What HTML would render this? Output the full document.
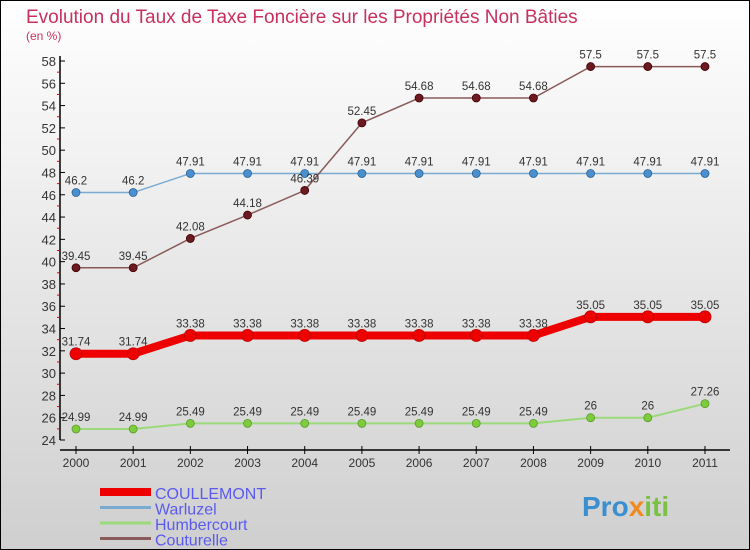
<!DOCTYPE html>
<html><head><meta charset="utf-8"><style>
body{margin:0}
#c{width:750px;height:550px;position:relative;overflow:hidden}
text{font-family:"Liberation Sans",sans-serif}
</style></head><body>
<div id="c">
<svg id="s" width="750" height="550" xmlns="http://www.w3.org/2000/svg">
<defs><linearGradient id="bg" x1="0" y1="0" x2="0" y2="1"><stop offset="0" stop-color="#ffffff"/><stop offset="1" stop-color="#cfcfcf"/></linearGradient></defs>
<rect x="0.5" y="0.5" width="749" height="549" fill="url(#bg)" stroke="#000"/>
<text x="26" y="23" font-size="19" fill="#c8305e">Evolution du Taux de Taxe Foncière sur les Propriétés Non Bâties</text>
<text x="26" y="40" font-size="12" fill="#c8305e">(en %)</text>
<g id="axes"></g><g id="series"></g><g id="legend"></g>
<g><text x="582" y="516" font-size="28" font-weight="bold" fill="#3a8fd0">Pro<tspan fill="#f08a20">x</tspan><tspan fill="#7ac143">iti</tspan></text></g>
</svg></div>
<script>
const years=["2000","2001","2002","2003","2004","2005","2006","2007","2008","2009","2010","2011"];
const yTicks=[24,26,28,30,32,34,36,38,40,42,44,46,48,50,52,54,56,58];
const coullemont=[31.74,31.74,33.38,33.38,33.38,33.38,33.38,33.38,33.38,35.05,35.05,35.05];
const warluzel=[46.2,46.2,47.91,47.91,47.91,47.91,47.91,47.91,47.91,47.91,47.91,47.91];
const humbercourt=[24.99,24.99,25.49,25.49,25.49,25.49,25.49,25.49,25.49,26,26,27.26];
const couturelle=[39.45,39.45,42.08,44.18,46.39,52.45,54.68,54.68,54.68,57.5,57.5,57.5];
const seriesNames=["COULLEMONT","Warluzel","Humbercourt","Couturelle"];
const NS="http://www.w3.org/2000/svg";
function X(i){return 76+i*57.18;}
function Y(v){return 440-(v-24)*(379/34);}
function mk(t,a,p){const e=document.createElementNS(NS,t);for(const k in a)e.setAttribute(k,a[k]);p.appendChild(e);return e;}
const ax=document.getElementById('axes');
let yl=mk('line',{x1:60,y1:56,x2:60,y2:440,stroke:'#000','stroke-width':1.5},ax);


let xl=mk('line',{x1:60,y1:450,x2:730,y2:450,stroke:'#000','stroke-width':1.5},ax);


yTicks.forEach(v=>{
 mk('line',{x1:60,y1:Y(v),x2:65,y2:Y(v),stroke:'#000'},ax);
 if(v<58)mk('line',{x1:57,y1:Y(v+1),x2:60,y2:Y(v+1),stroke:'#d00'},ax);
 const t=mk('text',{x:56,y:Y(v)+5,'font-size':13,'text-anchor':'end',fill:'#333'},ax);t.textContent=v;
 
 
});
years.forEach((y,i)=>{
 mk('line',{x1:X(i),y1:446,x2:X(i),y2:454,stroke:'#000'},ax);
 const t=mk('text',{x:X(i),y:467,'font-size':12,'text-anchor':'middle',fill:'#333'},ax);t.textContent=y;
 
 
});
const sg=document.getElementById('series');
const defs=[[humbercourt,'#9bd97a','#7ccc3c','#5a9a2a',2,4],[warluzel,'#7aaad0','#4a90d0','#2a6090',1.5,4],[couturelle,'#8a5a5a','#6a1a20','#400',1.5,4],[coullemont,'#ee0000','#ee0000','#b00',8,6]];
const names=['humbercourt','warluzel','couturelle','coullemont'];
defs.forEach((d,k)=>{
 const g=mk('g',{},sg);
 
 
 const pts=d[0].map((v,i)=>X(i)+','+Y(v)).join(' ');
 mk('polyline',{points:pts,fill:'none',stroke:d[1],'stroke-width':d[4]},g);
 d[0].forEach((v,i)=>{
  const c=mk('circle',{cx:X(i),cy:Y(v),r:d[5],fill:d[2],stroke:d[3],'stroke-width':0.8},g);
  
  
  const t=mk('text',{x:X(i),y:Y(v)-8,'font-size':11.5,'text-anchor':'middle',fill:'#333'},g);t.textContent=v;
  
  
 });
});
const lg=document.getElementById('legend');
const lc=['#ee0000','#7aaad0','#9bd97a','#8a5a5a'],lw=[8,3,3,3];
seriesNames.forEach((n,i)=>{
 const y=492+i*15.5;
 const g=mk('g',{},lg);
 
 
 mk('line',{x1:100,y1:y,x2:151,y2:y,stroke:lc[i],'stroke-width':lw[i]},g);
 const t=mk('text',{x:155,y:y+7,'font-size':16,fill:'#5a5af0'},g);t.textContent=n;
});
</script>
</body></html>
